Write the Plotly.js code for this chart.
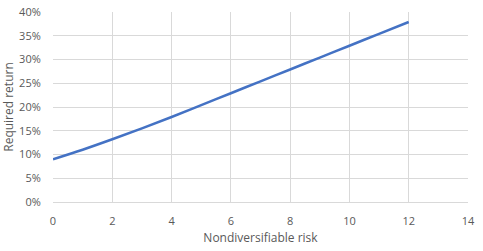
<!DOCTYPE html>
<html><head><meta charset="utf-8">
<script src="https://cdn.plot.ly/plotly-3.0.1.min.js"></script>
<style>html,body{margin:0;padding:0;background:#fff}#c{width:483px;height:251px}</style>
</head><body><div id="c"></div>
<script>
const risk = [0, 1, 2, 3, 4, 5, 6, 7, 8, 9, 10, 11, 12];
const requiredReturn = [0.09, 0.11, 0.132, 0.155, 0.179, 0.204, 0.229, 0.254, 0.279, 0.304, 0.329, 0.354, 0.379];
const xTicks = [0, 2, 4, 6, 8, 10, 12, 14];
const yTicks = [0, 0.05, 0.10, 0.15, 0.20, 0.25, 0.30, 0.35, 0.40];

Plotly.newPlot('c', [{
  x: risk, y: requiredReturn, type: 'scatter', mode: 'lines',
  line: {color: '#4472C4', width: 2.5, shape: 'spline'}, hoverinfo: 'skip'
}], {
  width: 483, height: 251,
  margin: {l: 53, r: 15, t: 12, b: 49},
  paper_bgcolor: '#fff', plot_bgcolor: '#fff',
  font: {family: 'Open Sans, sans-serif', color: '#595959', size: 11},
  showlegend: false,
  xaxis: {
    range: [0, 14], tickvals: xTicks, ticktext: xTicks.map(String),
    showgrid: true, gridcolor: '#d9d9d9', gridwidth: 1, zeroline: false,
    showline: true, linecolor: '#d9d9d9', ticks: 'outside', ticklen: 9, tickcolor: 'rgba(0,0,0,0)',
    title: {text: 'Nondiversifiable risk', font: {size: 12, color: '#595959'}, standoff: 6}
  },
  yaxis: {
    range: [0, 0.40], tickvals: yTicks, ticktext: yTicks.map(v => Math.round(v*100) + '%'),
    showgrid: true, gridcolor: '#d9d9d9', gridwidth: 1, zeroline: false,
    showline: false, ticks: 'outside', ticklen: 9, tickcolor: 'rgba(0,0,0,0)',
    title: {text: 'Required return', font: {size: 12, color: '#595959'}, standoff: 4}
  }
}, {displayModeBar: false, staticPlot: true});
</script></body></html>
